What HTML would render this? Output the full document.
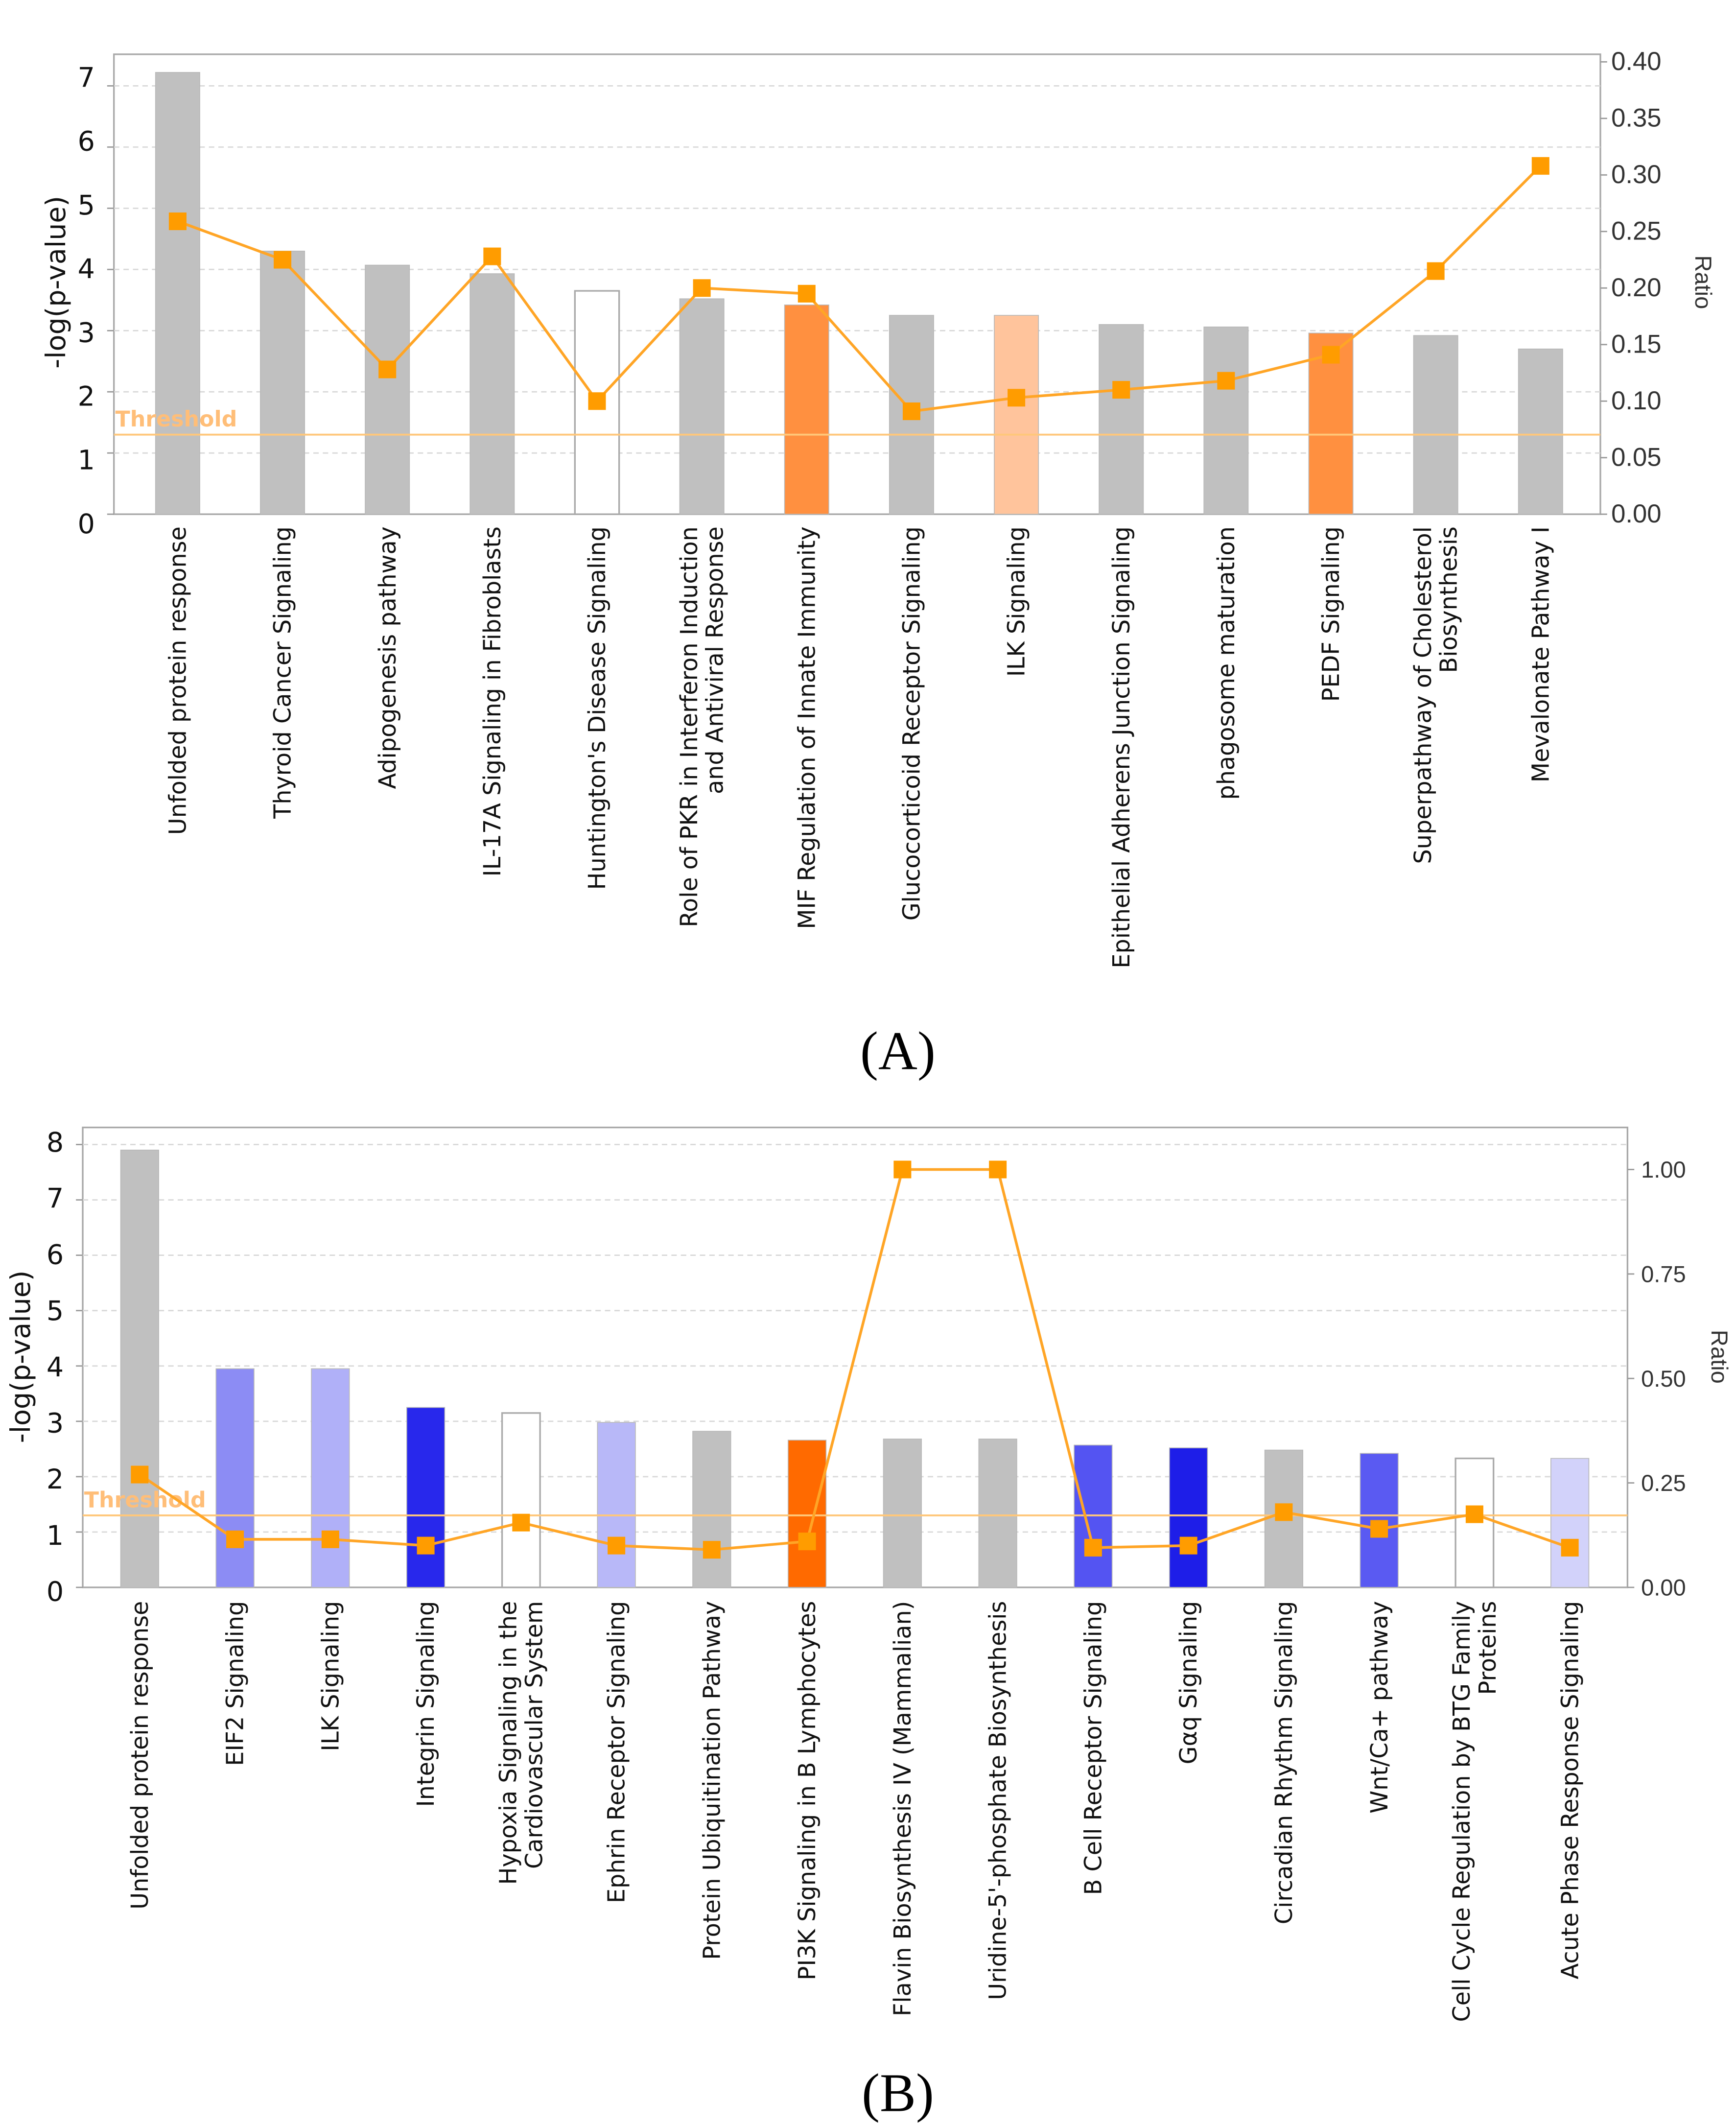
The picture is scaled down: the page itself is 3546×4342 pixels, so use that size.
<!DOCTYPE html>
<html><head><meta charset="utf-8">
<style>
html,body{margin:0;padding:0;background:#fff;}
svg{display:block;}
text{font-family:"DejaVu Sans","Liberation Sans",sans-serif;}
</style></head>
<body>
<svg id="fig" width="3546" height="4342" viewBox="0 0 1280 1567" preserveAspectRatio="none" xmlns="http://www.w3.org/2000/svg">
<g id="chartA"></g>
<g id="chartB"></g>
<text x="662" y="788" font-size="40" text-anchor="middle" style="font-family:'Liberation Serif',serif">(A)</text>
<text x="662" y="1556" font-size="40" text-anchor="middle" style="font-family:'Liberation Serif',serif">(B)</text>
</svg>
<script>
// ----- Chart A data -----
const catsA = ["Unfolded protein response","Thyroid Cancer Signaling","Adipogenesis pathway","IL-17A Signaling in Fibroblasts","Huntington's Disease Signaling","Role of PKR in Interferon Induction|and Antiviral Response","MIF Regulation of Innate Immunity","Glucocorticoid Receptor Signaling","ILK Signaling","Epithelial Adherens Junction Signaling","phagosome maturation","PEDF Signaling","Superpathway of Cholesterol|Biosynthesis","Mevalonate Pathway I"];
const logpA = [7.22,4.30,4.07,3.93,3.65,3.52,3.42,3.25,3.25,3.10,3.06,2.96,2.92,2.70];
const ratioA = [0.259,0.225,0.128,0.228,0.100,0.200,0.195,0.091,0.103,0.110,0.118,0.141,0.215,0.308];
const colorsA = ["#c0c0c0","#c0c0c0","#c0c0c0","#c0c0c0","#ffffff","#c0c0c0","#ff9040","#c0c0c0","#ffc49c","#c0c0c0","#c0c0c0","#ff9040","#c0c0c0","#c0c0c0"];
const leftTicksA = [0,1,2,3,4,5,6,7];
const rightTicksA = ["0.00","0.05","0.10","0.15","0.20","0.25","0.30","0.35","0.40"];
const thresholdA = 1.3;

// ----- Chart B data -----
const catsB = ["Unfolded protein response","EIF2 Signaling","ILK Signaling","Integrin Signaling","Hypoxia Signaling in the|Cardiovascular System","Ephrin Receptor Signaling","Protein Ubiquitination Pathway","PI3K Signaling in B Lymphocytes","Flavin Biosynthesis IV (Mammalian)","Uridine-5'-phosphate Biosynthesis","B Cell Receptor Signaling","Gαq Signaling","Circadian Rhythm Signaling","Wnt/Ca+ pathway","Cell Cycle Regulation by BTG Family|Proteins","Acute Phase Response Signaling"];
const logpB = [7.9,3.95,3.95,3.25,3.15,2.98,2.82,2.66,2.68,2.68,2.57,2.52,2.48,2.42,2.33,2.33];
const ratioB = [0.27,0.115,0.115,0.10,0.155,0.10,0.09,0.11,1.0,1.0,0.095,0.10,0.18,0.14,0.175,0.095];
const colorsB = ["#c0c0c0","#8c8cf4","#b0b0f8","#2828ec","#ffffff","#b8b8f8","#c0c0c0","#ff6a00","#c0c0c0","#c0c0c0","#5454f2","#1e1ee8","#c0c0c0","#5a5af2","#ffffff","#d2d2fa"];
const leftTicksB = [0,1,2,3,4,5,6,7,8];
const rightTicksB = ["0.00","0.25","0.50","0.75","1.00"];
const thresholdB = 1.3;

const NS = "http://www.w3.org/2000/svg";
function mk(parent, tag, attrs){ const e=document.createElementNS(NS,tag); for(const k in attrs) e.setAttribute(k,attrs[k]); parent.appendChild(e); return e; }

function draw(g, cfg){
  const {cats,logp,ratio,colors,leftTicks,rightTicks,threshold,x0,x1,top,bottom,first,step,unit,lblTop,rMax,rTop,barW,rLblX,fs,labelY} = cfg;
  const yL = v => bottom - v*unit;
  const yR = r => bottom - (r/rMax)*(bottom-rTop);
  const xC = i => first + i*step;
  const fr = mk(g,'rect',{x:x0,y:top,width:x1-x0,height:bottom-top,fill:'none',stroke:'#a8a8a8','stroke-width':1.2});
  
  
  leftTicks.forEach(v=>{
    if(v>0){ const gl=mk(g,'line',{x1:x0,x2:x1,y1:yL(v),y2:yL(v),stroke:'#d8d8d8','stroke-dasharray':'4 3','stroke-width':1});
      
       }
    mk(g,'line',{x1:x0-5,x2:x0,y1:yL(v),y2:yL(v),stroke:'#999'});
    const t=mk(g,'text',{x:x0-14,y:lblTop(v)+7,'font-size':20,'text-anchor':'end',fill:'#111'}); t.textContent=v;
    
    
  });
  rightTicks.forEach(s=>{
    const r=parseFloat(s);
    mk(g,'line',{x1:x1,x2:x1+5,y1:yR(r),y2:yR(r),stroke:'#999'});
    const t=mk(g,'text',{x:rLblX,y:yR(r)+6,'font-size':fs,fill:'#333',style:"font-family:'Liberation Sans',sans-serif"}); t.textContent=s;
    
    
  });
  logp.forEach((v,i)=>{
    const b=mk(g,'rect',{x:xC(i)-barW/2,y:yL(v),width:barW,height:bottom-yL(v),fill:colors[i],stroke:colors[i]==='#ffffff'?'#aaaaaa':'#b8b8b8','stroke-width':colors[i]==='#ffffff'?1.2:0.6});
    
    
  });
  const th=mk(g,'line',{x1:x0,x2:x1,y1:yL(threshold),y2:yL(threshold),stroke:'#ffc77a','stroke-width':1.4});
  
  
  const tt=mk(g,'text',{x:x0+1,y:yL(threshold)-6,'font-size':16,'font-weight':'bold',fill:'#ffbe78'}); tt.textContent='Threshold';
  
  
  const pts=ratio.map((r,i)=>xC(i)+','+yR(r)).join(' ');
  const pl=mk(g,'polyline',{points:pts,fill:'none',stroke:'#ffa526','stroke-width':2});
  
  
  ratio.forEach((r,i)=>{
    const m=mk(g,'rect',{x:xC(i)-6.5,y:yR(r)-6.5,width:13,height:13,fill:'#ff9c00'});
    
    
  });
  cats.forEach((c,i)=>{
    const lines=c.split('|');
    lines.forEach((ln,j)=>{
      const dx = (j-(lines.length-1)/2)*19;
      const x=xC(i)+6+dx, y=labelY;
      const t=mk(g,'text',{x:x,y:y,'font-size':17.2,'text-anchor':'end',fill:'#111',transform:`rotate(-90 ${x} ${y})`});
      t.textContent=ln;
      
      
    });
  });
  const lt=mk(g,'text',{x:0,y:0,'font-size':20,'text-anchor':'middle',fill:'#111',transform:`translate(${cfg.ltx} ${cfg.lty}) rotate(-90)`}); lt.textContent='-log(p-value)';
  
  
  const rt=mk(g,'text',{x:0,y:0,'font-size':17,'text-anchor':'middle',fill:'#333',style:"font-family:'Liberation Sans',sans-serif",transform:`translate(${cfg.rtx} ${cfg.rty}) rotate(90)`}); rt.textContent='Ratio';
  
  
}

draw(document.getElementById('chartA'),{
  cats:catsA,logp:logpA,ratio:ratioA,colors:colorsA,leftTicks:leftTicksA,rightTicks:rightTicksA,threshold:thresholdA,
  x0:84,x1:1180,top:40,bottom:379,first:131,step:77.3,unit:45.1,lblTop:v=>386-v*47,rMax:0.40,rTop:45.6,barW:32.6,
  rLblX:1188,fs:19,labelY:388,ltx:48,lty:208,rtx:1250,rty:208
});
draw(document.getElementById('chartB'),{
  cats:catsB,logp:logpB,ratio:ratioB,colors:colorsB,leftTicks:leftTicksB,rightTicks:rightTicksB,threshold:thresholdB,
  x0:61,x1:1200,top:831,bottom:1170,first:103,step:70.3,unit:40.8,lblTop:v=>1173-v*41.4,rMax:1.0,rTop:862,barW:28,
  rLblX:1210,fs:17,labelY:1180,ltx:22,lty:1000,rtx:1262,rty:1000
});
</script>
</body></html>
